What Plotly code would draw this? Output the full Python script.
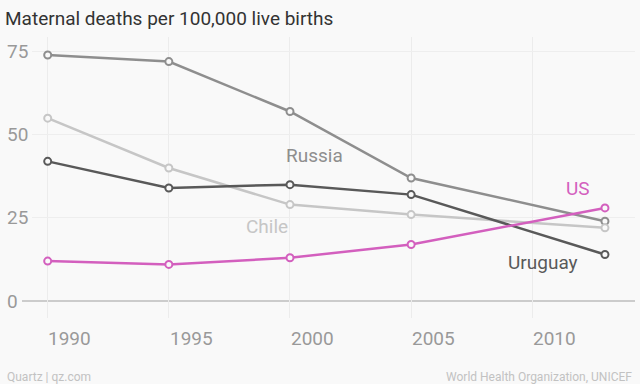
import plotly.graph_objects as go

years = [1990, 1995, 2000, 2005, 2013]
russia = [74, 72, 57, 37, 24]
chile = [55, 40, 29, 26, 22]
uruguay = [42, 34, 35, 32, 14]
us = [12, 11, 13, 17, 28]

x_ticks = [1990, 1995, 2000, 2005, 2010]
y_ticks = [0, 25, 50, 75]

title = "Maternal deaths per 100,000 live births"
font = "Roboto, Arial, sans-serif"
bg = "#f9f9f9"

series = [
    ("Russia", russia, "#8e8e8e", 2001.0, 43.7),
    ("Chile", chile, "#c6c6c6", 1999.05, 22.4),
    ("Uruguay", uruguay, "#595959", 2010.45, 11.6),
    ("US", us, "#d35fbe", 2011.87, 33.8),
]

W, H = 640, 384
ML, MR, MT, MB = 32, 5, 37, 66
PW, PH = W - ML - MR, H - MT - MB


def px_x(p):
    return (p - ML) / PW


def px_y(p):
    return (H - MB - p) / PH


fig = go.Figure()
for name, vals, color, lx, ly in series:
    fig.add_trace(go.Scatter(
        x=years, y=vals, mode="lines+markers", name=name,
        line=dict(color=color, width=2.5),
        marker=dict(size=7, color=bg, line=dict(color=color, width=2)),
        hoverinfo="skip", showlegend=False,
    ))
    fig.add_annotation(x=lx, y=ly, xref="x", yref="y", text=name, showarrow=False,
                       xanchor="center", yanchor="middle",
                       font=dict(family=font, size=19, color=color))

# zero line
fig.add_shape(type="line", xref="paper", yref="y", x0=px_x(22), x1=px_x(635), y0=0, y1=0,
              line=dict(color="#cccccc", width=2), layer="below")

# y tick labels (left aligned)
for v in y_ticks:
    fig.add_annotation(x=px_x(5), y=v, xref="paper", yref="y", text=str(v), showarrow=False,
                       xanchor="left", yanchor="middle",
                       font=dict(family=font, size=19, color="#999999"))
# x tick labels (left aligned at tick)
for v in x_ticks:
    fig.add_annotation(x=v - 0.05, y=px_y(338), xref="x", yref="paper", text=str(v), showarrow=False,
                       xanchor="left", yanchor="middle",
                       font=dict(family=font, size=19, color="#999999"))

fig.add_annotation(x=px_x(5), y=px_y(377), xref="paper", yref="paper",
                   text="Quartz | qz.com", showarrow=False, xanchor="left", yanchor="middle",
                   font=dict(family=font, size=12, color="#c2c2c2"))
fig.add_annotation(x=px_x(634), y=px_y(377), xref="paper", yref="paper",
                   text="World Health Organization, UNICEF", showarrow=False,
                   xanchor="right", yanchor="middle",
                   font=dict(family=font, size=12, color="#c2c2c2"))

fig.update_layout(
    width=W, height=H,
    paper_bgcolor=bg, plot_bgcolor=bg,
    margin=dict(l=ML, r=MR, t=MT, b=MB),
    title=dict(text=title, x=5 / W, xref="container", xanchor="left",
               y=1 - 18 / H, yref="container", yanchor="middle",
               font=dict(family=font, size=19, color="#333333")),
    xaxis=dict(range=[1989.352, 2014.24], tickvals=x_ticks, showticklabels=False,
               showgrid=True, gridcolor="#ececec", gridwidth=1, zeroline=False,
               showline=False, ticks=""),
    yaxis=dict(range=[-5.11, 79.4], tickvals=[25, 50, 75], showticklabels=False,
               showgrid=True, gridcolor="#eeeeee", gridwidth=1, zeroline=False,
               showline=False, ticks=""),
)

fig.write_html("out.html", config={"displayModeBar": False},
               post_script="document.body.style.margin='0';document.body.style.overflow='hidden';")
